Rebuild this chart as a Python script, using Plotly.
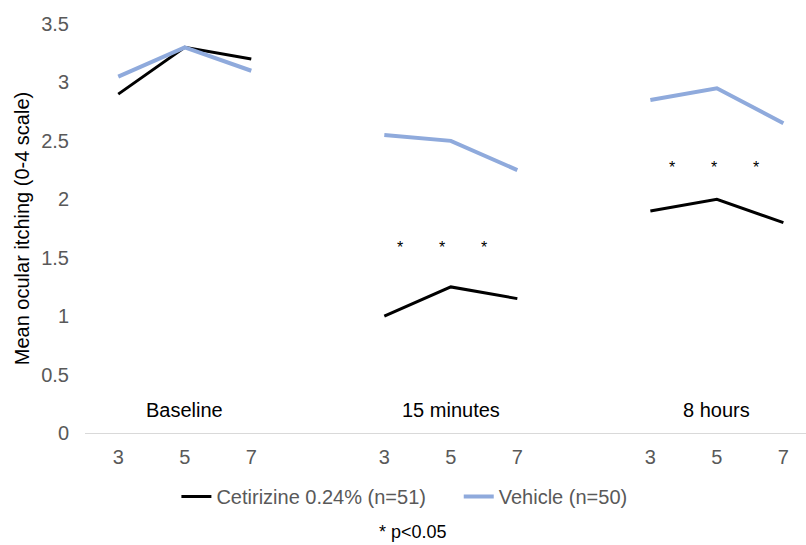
import plotly.graph_objects as go

# Data
dose_labels = ["3", "5", "7"]
groups = ["Baseline", "15 minutes", "8 hours"]
series_names = ["Cetirizine 0.24% (n=51)", "Vehicle (n=50)"]
cetirizine = [[2.9, 3.3, 3.2], [1.0, 1.25, 1.15], [1.9, 2.0, 1.8]]
vehicle = [[3.05, 3.3, 3.1], [2.55, 2.5, 2.25], [2.85, 2.95, 2.65]]
sig_y = [1.59, 2.27]  # asterisk heights for 15 minutes and 8 hours
sig_offsets = [[0.24, 0.87, 1.5], [0.33, 0.96, 1.59]]

FONT = "Arial, Liberation Sans, sans-serif"

# x positions: 3 categories per group, one blank slot between groups
x_pos = []
for g in range(3):
    x_pos.append([g * 4 + i for i in range(3)])

def flatten(series):
    xs, ys = [], []
    for g in range(3):
        xs += x_pos[g] + [None]
        ys += series[g] + [None]
    return xs, ys

fig = go.Figure()
xc, yc = flatten(cetirizine)
xv, yv = flatten(vehicle)
fig.add_trace(go.Scatter(x=xc, y=yc, mode="lines", name=series_names[0] + "\u00a0" * 5,
                         line=dict(color="black", width=3), connectgaps=False))
fig.add_trace(go.Scatter(x=xv, y=yv, mode="lines", name=series_names[1],
                         line=dict(color="#8FAADC", width=4), connectgaps=False))

tickvals = [v for g in x_pos for v in g]
ticktext = dose_labels * 3

annotations = []
for g, name in enumerate(groups):
    annotations.append(dict(x=x_pos[g][1], y=0.2, text=name, showarrow=False,
                            xref="x", yref="y", font=dict(size=20, color="black", family=FONT)))
for k, gy in enumerate(sig_y):
    g = k + 1
    for off in sig_offsets[k]:
        annotations.append(dict(x=x_pos[g][0] + off, y=gy, text="*", showarrow=False,
                                xref="x", yref="y", font=dict(size=16, color="black", family=FONT)))
annotations.append(dict(x=0.455, y=-0.272, xref="paper", yref="paper", text="* p<0.05",
                        yanchor="bottom", showarrow=False,
                        font=dict(size=18, color="black", family=FONT)))

fig.update_layout(
    width=806, height=545,
    margin=dict(l=85, r=0, t=24, b=112),
    plot_bgcolor="white", paper_bgcolor="white",
    font=dict(family=FONT, size=20, color="#595959"),
    xaxis=dict(range=[-0.5, 10.34], tickvals=tickvals, ticktext=ticktext,
               showgrid=False, zeroline=False, showline=True, linecolor="#D9D9D9",
               linewidth=1, ticks="outside", ticklen=6, tickcolor="rgba(0,0,0,0)",
               tickfont=dict(size=20, color="#595959")),
    yaxis=dict(range=[0, 3.5], dtick=0.5, showgrid=False, zeroline=False,
               ticks="outside", ticklen=11, tickcolor="rgba(0,0,0,0)",
               tickfont=dict(size=20, color="#595959"),
               title=dict(text="Mean ocular itching (0-4 scale)", standoff=6,
                          font=dict(size=20, color="black"))),
    legend=dict(orientation="h", x=0.443, xanchor="center", y=-0.155, yanchor="middle",
                font=dict(size=20, color="#595959"), itemwidth=30),
    annotations=annotations,
)

fig.write_html("out.html")
